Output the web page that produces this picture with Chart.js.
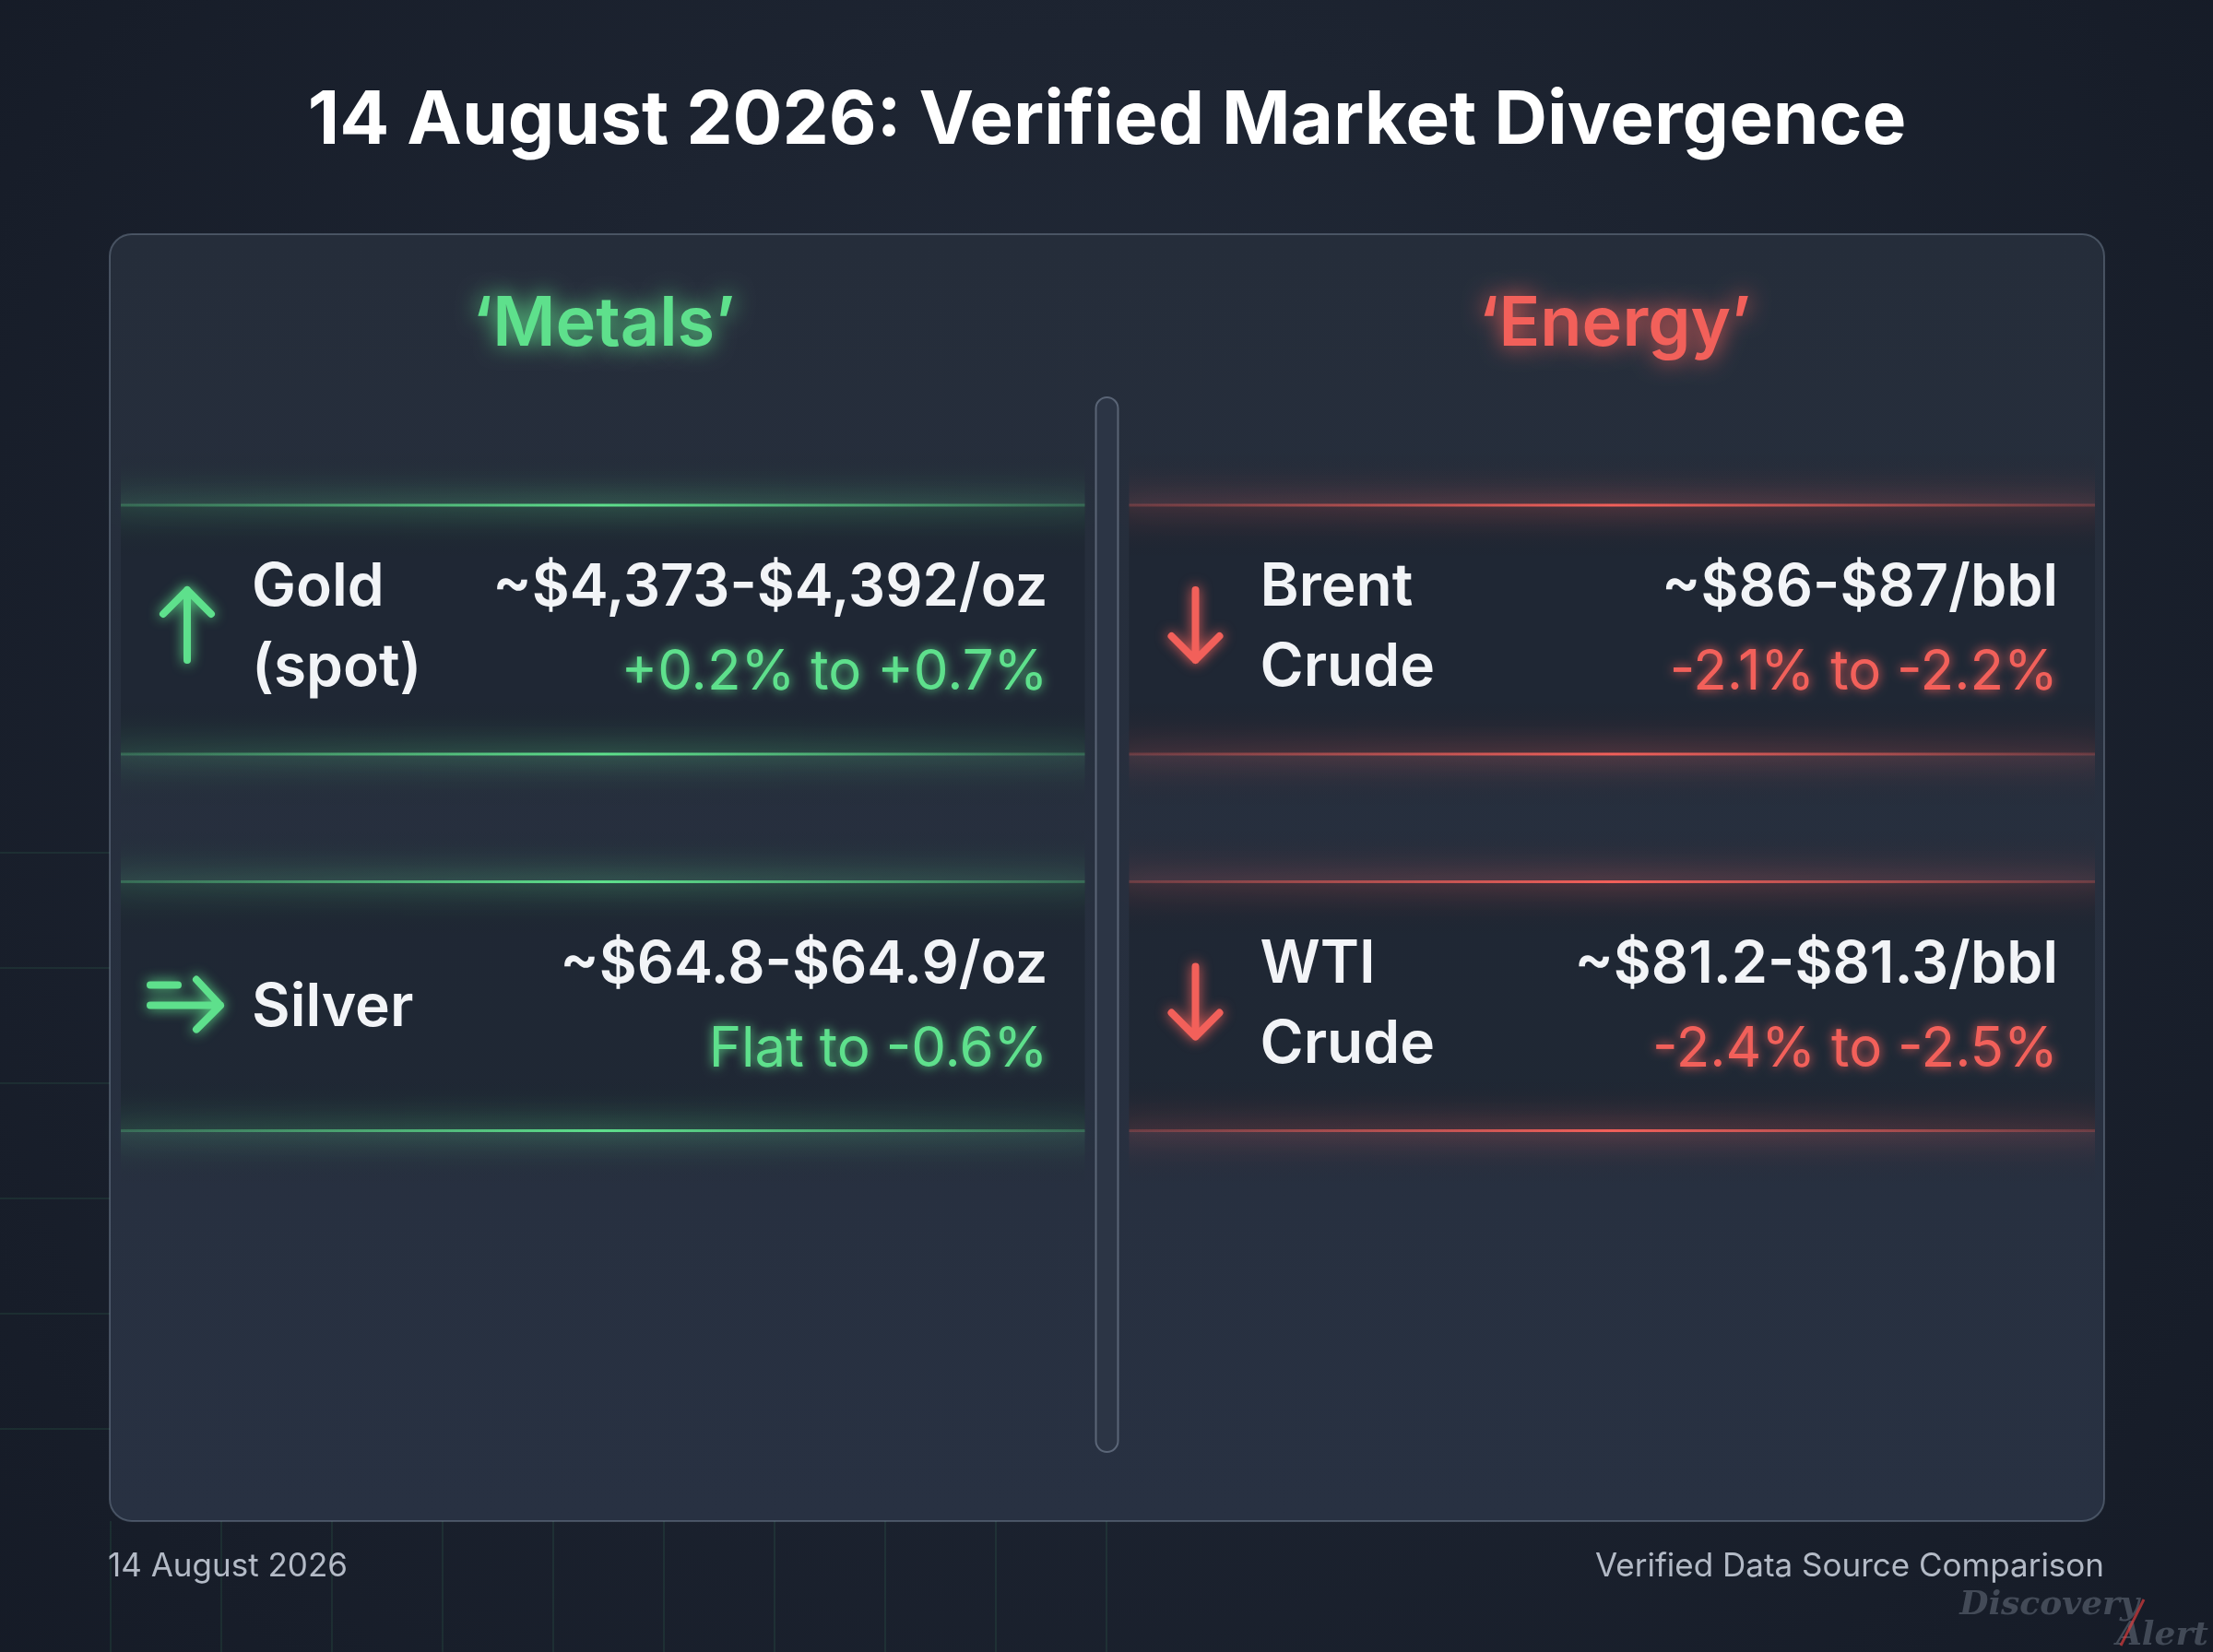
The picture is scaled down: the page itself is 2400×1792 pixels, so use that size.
<!DOCTYPE html>
<html>
<head>
<meta charset="utf-8">
<script src="https://cdn.jsdelivr.net/npm/chart.js@4"></script>
<style>
  html, body { margin: 0; padding: 0; background: #151b26; }
  #wrap { width: 2400px; height: 1792px; position: relative; }
</style>
</head>
<body>
<div id="wrap"><canvas id="board" width="2400" height="1792"></canvas></div>
<script>
// Market divergence board, 14 August 2026
const groups = ['\u2018Metals\u2019', '\u2018Energy\u2019'];
const groupColors = ['#5ee08c', '#f2605a'];
const names = [['Gold', '(spot)'], ['Silver'], ['Brent', 'Crude'], ['WTI', 'Crude']];
const prices = ['~$4,373-$4,392/oz', '~$64.8-$64.9/oz', '~$86-$87/bbl', '~$81.2-$81.3/bbl'];
const changes = ['+0.2% to +0.7%', 'Flat to -0.6%', '-2.1% to -2.2%', '-2.4% to -2.5%'];
const trends = ['up', 'flat', 'down', 'down'];
const cols = [0, 0, 1, 1];
const rows = [1.26, 2.46, 1.26, 2.46];

const FONT = 'Inter, "Noto Sans", sans-serif';

function roundRect(ctx, x, y, w, h, r) {
    ctx.beginPath();
    ctx.moveTo(x + r, y);
    ctx.arcTo(x + w, y, x + w, y + h, r);
    ctx.arcTo(x + w, y + h, x, y + h, r);
    ctx.arcTo(x, y + h, x, y, r);
    ctx.arcTo(x, y, x + w, y, r);
    ctx.closePath();
}

function glowLine(ctx, x1, x2, y, color) {
    const g = ctx.createLinearGradient(x1, 0, x2, 0);
    g.addColorStop(0, color.replace('1)', '0.25)'));
    g.addColorStop(0.5, color);
    g.addColorStop(1, color.replace('1)', '0.25)'));
    ctx.save();
    ctx.shadowColor = color;
    ctx.shadowBlur = 30;
    ctx.strokeStyle = g;
    ctx.lineWidth = 3;
    ctx.beginPath(); ctx.moveTo(x1, y); ctx.lineTo(x2, y); ctx.stroke();
    ctx.restore();
    // soft halo
    const h = ctx.createLinearGradient(0, y - 60, 0, y + 60);
    h.addColorStop(0, 'rgba(0,0,0,0)');
    h.addColorStop(0.5, color.replace('1)', '0.12)'));
    h.addColorStop(1, 'rgba(0,0,0,0)');
    ctx.fillStyle = h;
    ctx.fillRect(x1, y - 60, x2 - x1, 120);
}

function drawArrow(ctx, type, x, y, color) {
    ctx.save();
    ctx.strokeStyle = color;
    ctx.lineWidth = 8;
    ctx.lineCap = 'round';
    ctx.lineJoin = 'round';
    ctx.shadowColor = color;
    ctx.shadowBlur = 14;
    ctx.beginPath();
    if (type === 'up') {
        ctx.moveTo(x, y + 38); ctx.lineTo(x, y - 38);
        ctx.moveTo(x - 26, y - 12); ctx.lineTo(x, y - 38); ctx.lineTo(x + 26, y - 12);
    } else if (type === 'down') {
        ctx.moveTo(x, y - 38); ctx.lineTo(x, y + 38);
        ctx.moveTo(x - 26, y + 12); ctx.lineTo(x, y + 38); ctx.lineTo(x + 26, y + 12);
    } else {
        ctx.moveTo(x - 40, y + 4); ctx.lineTo(x + 36, y + 4);
        ctx.moveTo(x - 40, y - 18); ctx.lineTo(x - 10, y - 18);
        ctx.moveTo(x + 10, y - 24); ctx.lineTo(x + 36, y + 4); ctx.lineTo(x + 10, y + 30);
    }
    ctx.stroke();
    ctx.restore();
}

const boardPlugin = {
    id: 'board',
    beforeDraw(chart) {
        const ctx = chart.ctx;
        const a = chart.chartArea;
        const W = chart.width, H = chart.height;
        // background
        const bg = ctx.createRadialGradient(W / 2, H * 0.35, 100, W / 2, H * 0.5, W * 0.8);
        bg.addColorStop(0, '#222a38');
        bg.addColorStop(1, '#121722');
        ctx.fillStyle = bg;
        ctx.fillRect(0, 0, W, H);
        // faint grid bottom-left
        ctx.save();
        ctx.strokeStyle = 'rgba(80,200,130,0.10)';
        ctx.lineWidth = 2;
        for (let i = 0; i < 6; i++) {
            const yy = 925 + i * 125;
            ctx.beginPath(); ctx.moveTo(0, yy); ctx.lineTo(120, yy); ctx.stroke();
        }
        for (let i = 0; i < 10; i++) {
            const xx = 120 + i * 120;
            ctx.beginPath(); ctx.moveTo(xx, 1650); ctx.lineTo(xx, 1792); ctx.stroke();
        }
        ctx.restore();
        // panel
        ctx.save();
        roundRect(ctx, a.left, a.top, a.right - a.left, a.bottom - a.top, 24);
        const pg = ctx.createLinearGradient(0, a.top, 0, a.bottom);
        pg.addColorStop(0, '#252d3a');
        pg.addColorStop(1, '#283142');
        ctx.fillStyle = pg;
        ctx.fill();
        ctx.strokeStyle = 'rgba(150,165,185,0.35)';
        ctx.lineWidth = 2;
        ctx.stroke();
        ctx.restore();
    },
    afterDatasetsDraw(chart) {
        const ctx = chart.ctx;
        const xs = chart.scales.x, ys = chart.scales.y;
        const a = chart.chartArea;
        const mid = xs.getPixelForValue(0.5);
        // divider
        ctx.save();
        roundRect(ctx, mid - 12, ys.getPixelForValue(0.52), 24, ys.getPixelForValue(3.88) - ys.getPixelForValue(0.52), 12);
        ctx.fillStyle = '#2c3545';
        ctx.fill();
        ctx.strokeStyle = 'rgba(150,165,185,0.45)';
        ctx.lineWidth = 2;
        ctx.stroke();
        ctx.restore();

        // headers
        groups.forEach((g, i) => {
            ctx.save();
            ctx.font = '600 74px ' + FONT;
            ctx.textAlign = 'center';
            ctx.textBaseline = 'middle';
            ctx.fillStyle = groupColors[i];
            ctx.shadowColor = groupColors[i];
            ctx.shadowBlur = 24;
            ctx.fillText(g, xs.getPixelForValue(i) - (i === 0 ? 5 : -10), ys.getPixelForValue(0.29));
            ctx.restore();
        });

        const half = 135;
        prices.forEach((p, k) => {
            const c = cols[k];
            const color = groupColors[c];
            const cy = ys.getPixelForValue(rows[k]);
            const x1 = c === 0 ? a.left + 12 : mid + 24;
            const x2 = c === 0 ? mid - 24 : a.right - 10;
            // band
            ctx.fillStyle = 'rgba(30,37,50,0.75)';
            ctx.fillRect(x1, cy - half, x2 - x1, half * 2);
            const rgba = c === 0 ? 'rgba(94,224,140,1)' : 'rgba(242,96,90,1)';
            glowLine(ctx, x1, x2, cy - half, rgba);
            glowLine(ctx, x1, x2, cy + half, rgba);

            drawArrow(ctx, trends[k], x1 + 72, cy - 5, color);

            ctx.fillStyle = '#f2f4f7';
            ctx.font = '600 64px ' + FONT;
            ctx.textBaseline = 'middle';
            ctx.textAlign = 'left';
            const nx = x1 + 142;
            const nm = names[k];
            if (nm.length === 1) {
                ctx.fillText(nm[0], nx, cy + 2);
            } else {
                ctx.fillText(nm[0], nx, cy - 45);
                ctx.fillText(nm[1], nx, cy + 42);
            }
            const rx = x2 - 40;
            ctx.textAlign = 'right';
            ctx.font = '600 63px ' + FONT;
            ctx.fillText(p, rx, cy - 45);
            ctx.save();
            ctx.font = '400 60px ' + FONT;
            ctx.fillStyle = color;
            ctx.shadowColor = color;
            ctx.shadowBlur = 12;
            ctx.fillText(changes[k], rx, cy + 47);
            ctx.restore();
        });

        // footer
        ctx.save();
        ctx.font = '400 35px ' + FONT;
        ctx.fillStyle = '#b3bac6';
        ctx.textBaseline = 'middle';
        ctx.textAlign = 'left';
        ctx.fillText('14 August 2026', a.left - 2, 1699);
        ctx.textAlign = 'right';
        ctx.fillText('Verified Data Source Comparison', a.right, 1699);
        ctx.font = 'italic 600 36px "DejaVu Serif", serif';
        ctx.fillStyle = 'rgba(150,160,175,0.35)';
        ctx.fillText('Discovery', 2320, 1742);
        ctx.fillText('Alert', 2395, 1775);
        ctx.strokeStyle = 'rgba(220,60,60,0.7)';
        ctx.lineWidth = 3;
        ctx.beginPath(); ctx.moveTo(2300, 1785); ctx.lineTo(2325, 1735); ctx.stroke();
        ctx.restore();
    }
};

new Chart(document.getElementById('board'), {
    type: 'scatter',
    data: {
        datasets: [{
            data: prices.map((_, k) => ({ x: cols[k], y: rows[k] })),
            pointRadius: 0
        }]
    },
    options: {
        responsive: false,
        animation: false,
        devicePixelRatio: 1,
        layout: { padding: { left: 119, right: 118, top: 0, bottom: 142 } },
        scales: {
            x: { type: 'linear', min: -0.5, max: 1.5, display: false },
            y: { type: 'linear', min: 0, max: 4.1, reverse: true, display: false }
        },
        plugins: {
            legend: { display: false },
            tooltip: { enabled: false },
            title: {
                display: true,
                text: '14 August 2026: Verified Market Divergence',
                color: '#ffffff',
                font: { family: FONT, size: 80, weight: '700' },
                padding: { top: 84, bottom: 74 }
            }
        }
    },
    plugins: [boardPlugin]
});
</script>
</body>
</html>
